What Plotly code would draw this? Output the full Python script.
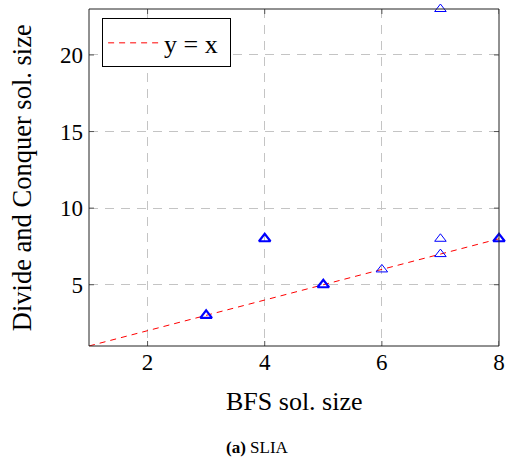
import plotly.graph_objects as go

bfs = [3, 4, 5, 6, 7, 7, 7, 8]
dc = [3, 8, 5, 6, 23, 8, 7, 8]
overlap = [3, 3, 3, 1, 1, 1, 1, 3]
line_x = [1, 8]
line_y = [1, 8]
xticks = [2, 4, 6, 8]
yticks = [5, 10, 15, 20]

serif = "Liberation Serif, Times New Roman, serif"

fig = go.Figure()
fig.add_trace(go.Scatter(x=line_x, y=line_y, mode="lines", name="y = x ",
                         line=dict(color="red", width=1, dash="6px,5px")))
fig.add_trace(go.Scatter(x=bfs, y=dc, mode="markers", showlegend=False, cliponaxis=False,
                         marker=dict(symbol="triangle-up-open", size=10, color="blue",
                                     line=dict(width=[1 if n == 1 else 2.2 for n in overlap],
                                               color="blue"))))

axis_common = dict(showline=False, ticks="", showgrid=True, gridcolor="#c4c4c4",
                   griddash="9px,7px", gridwidth=1, zeroline=False, automargin=False,
                   tickfont=dict(family=serif, size=23, color="black"))

fig.update_xaxes(range=[1, 8], tickvals=xticks, ticktext=[str(t) for t in xticks],
                 ticklabelstandoff=0, **axis_common)
fig.update_yaxes(range=[1, 23], tickvals=yticks, ticktext=[str(t) for t in yticks],
                 ticklabelstandoff=5, **axis_common)

shapes = []
tick_style = dict(color="#555", width=1)
for tv in xticks:
    shapes.append(dict(type="line", xref="x", yref="paper", ysizemode="pixel", yanchor=0,
                       x0=tv, x1=tv, y0=0, y1=5, line=tick_style, layer="above"))
    shapes.append(dict(type="line", xref="x", yref="paper", ysizemode="pixel", yanchor=1,
                       x0=tv, x1=tv, y0=0, y1=-5, line=tick_style, layer="above"))
for tv in yticks:
    shapes.append(dict(type="line", xref="paper", yref="y", xsizemode="pixel", xanchor=0,
                       x0=0, x1=5, y0=tv, y1=tv, line=tick_style, layer="above"))
    shapes.append(dict(type="line", xref="paper", yref="y", xsizemode="pixel", xanchor=1,
                       x0=0, x1=-5, y0=tv, y1=tv, line=tick_style, layer="above"))
shapes.append(dict(type="rect", xref="paper", yref="paper", x0=0, x1=1, y0=0, y1=1,
                   line=dict(color="#222", width=1), layer="above"))

fig.update_layout(
    width=506, height=460,
    margin=dict(l=89, r=7, t=9, b=114),
    plot_bgcolor="white", paper_bgcolor="white",
    showlegend=True,
    shapes=shapes,
    legend=dict(x=0.032, y=0.972, xanchor="left", yanchor="top",
                bordercolor="black", borderwidth=1, bgcolor="white", itemwidth=51,
                font=dict(family=serif, size=26, color="black")),
    annotations=[
        dict(text="BFS sol. size", xref="paper", yref="paper", x=0.502, y=-0.166,
             xanchor="center", yanchor="middle", showarrow=False,
             font=dict(family=serif, size=26, color="black")),
        dict(text="Divide and Conquer sol. size", xref="paper", yref="paper",
             x=-0.163, y=0.4985, xanchor="center", yanchor="middle", showarrow=False,
             textangle=-90, font=dict(family=serif, size=26.5, color="black")),
        dict(text="<b>(a)</b> SLIA", xref="paper", yref="paper",
             x=0.412, y=-0.30, xanchor="center", yanchor="middle",
             showarrow=False, font=dict(family=serif, size=17, color="black")),
    ],
)

fig.write_html("out.html", config={"displayModeBar": False},
               post_script="document.body.style.margin='0';document.body.style.overflow='hidden';")
